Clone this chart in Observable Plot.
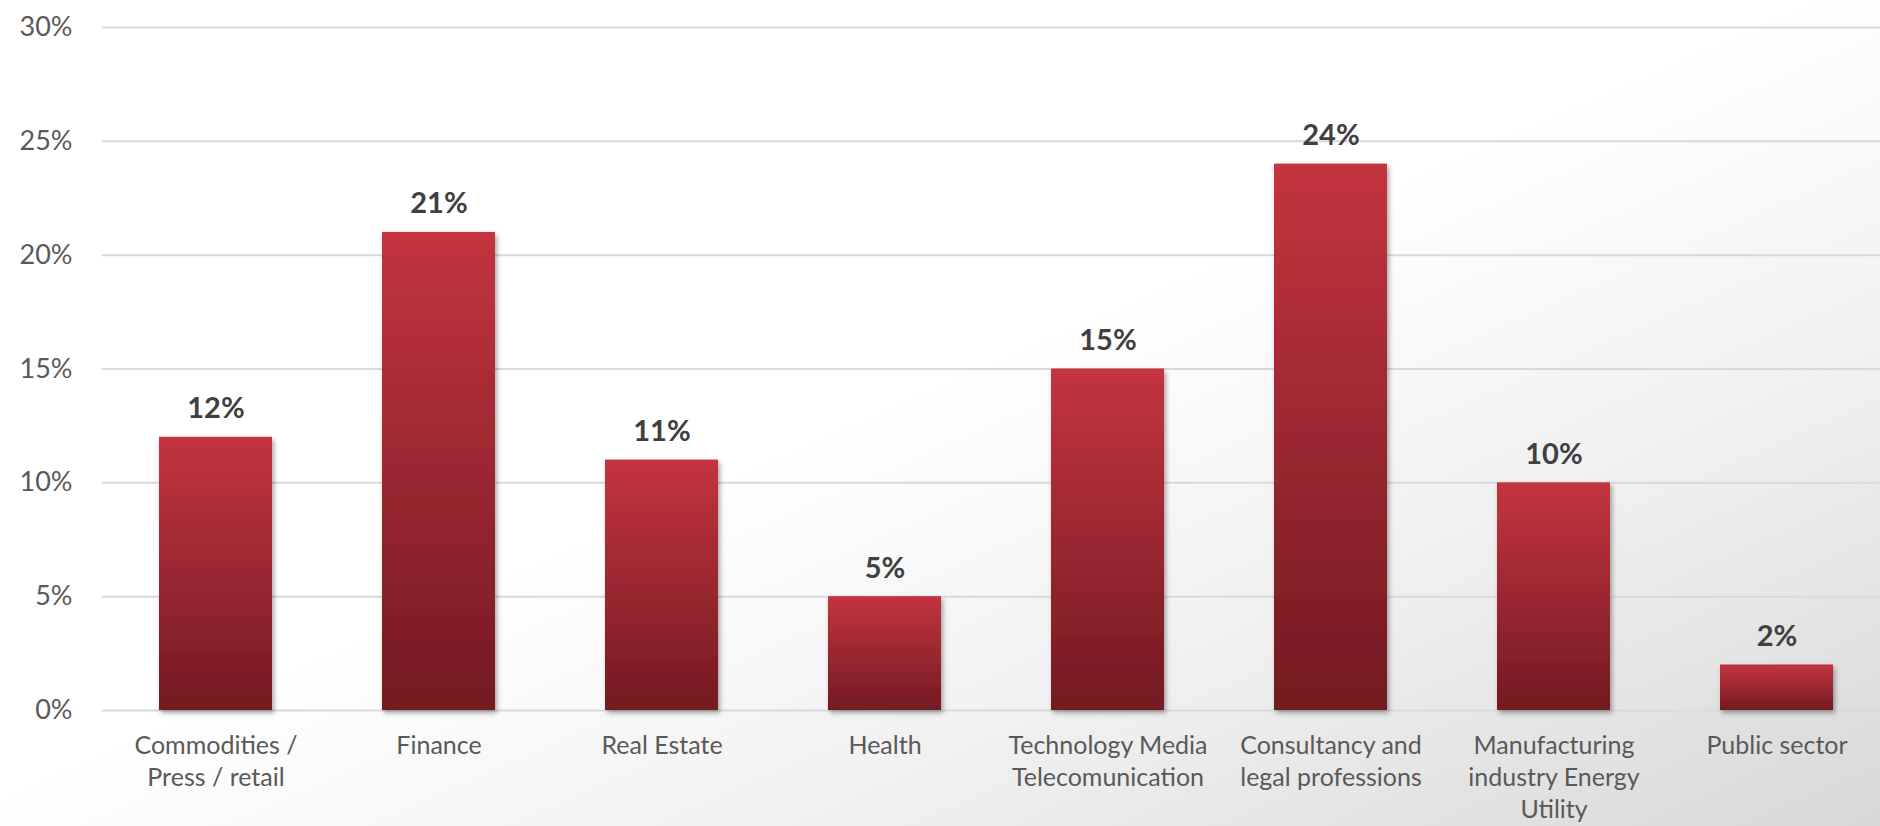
<!DOCTYPE html>
<html>
<head>
<meta charset="utf-8">
<script src="https://cdn.jsdelivr.net/npm/d3@7"></script>
<script src="https://cdn.jsdelivr.net/npm/@observablehq/plot@0.6"></script>
<style>
  html, body { margin: 0; padding: 0; }
  body {
    width: 1880px; height: 826px; overflow: hidden;
    background: linear-gradient(to bottom right, #ffffff 0%, #ffffff 48%, #f0f0f0 72%, #d8d8d8 100%);
    font-family: Lato, "Open Sans", sans-serif;
  }
  #chart svg { display: block; background: transparent; }
</style>
</head>
<body>
<div id="chart"></div>
<script>
const categories = ["Commodities", "Finance", "Real Estate", "Health", "TMT", "Consultancy", "Manufacturing", "Public sector"];
const labels = [
  "Commodities /\nPress / retail",
  "Finance",
  "Real Estate",
  "Health",
  "Technology Media\nTelecomunication",
  "Consultancy and\nlegal professions",
  "Manufacturing\nindustry Energy\nUtility",
  "Public sector"
];
const values = [12, 21, 11, 5, 15, 24, 10, 2];
const yTicks = [0, 5, 10, 15, 20, 25, 30];

const data = categories.map((c, i) => ({cat: c, label: labels[i], value: values[i]}));

const defs = () => {
  const d = d3.create("svg:defs");
  const g = d.append("linearGradient").attr("id", "barGrad").attr("x1", 0).attr("y1", 0).attr("x2", 0).attr("y2", 1);
  g.append("stop").attr("offset", "0%").attr("stop-color", "#c4343f");
  g.append("stop").attr("offset", "100%").attr("stop-color", "#721a22");
  const f = d.append("filter").attr("id", "shadow").attr("x", "-10%").attr("y", "-10%").attr("width", "130%").attr("height", "130%");
  f.append("feDropShadow").attr("dx", 2).attr("dy", 3).attr("stdDeviation", 2.5).attr("flood-color", "#000").attr("flood-opacity", 0.35);
  return d.node();
};

const chart = Plot.plot({
  width: 1880,
  height: 826,
  marginTop: 27,
  marginBottom: 116,
  marginLeft: 102,
  marginRight: -10,
  style: {fontFamily: "Lato, 'Open Sans', sans-serif", background: "transparent"},
  x: {domain: categories, paddingInner: 0.495, paddingOuter: 0.2475, axis: null},
  y: {domain: [0, 30], axis: null},
  marks: [
    defs,
    Plot.ruleY(yTicks, {stroke: "#d9d9d9", strokeWidth: 2}),
    Plot.axisY(yTicks, {tickSize: 0, tickPadding: 30, fontSize: 27, fill: "#595959", tickFormat: d => `${d}%`, label: null}),
    Plot.barY(data, {x: "cat", y: "value", fill: "url(#barGrad)"}),
    Plot.text(data, {x: "cat", y: "value", text: d => `${d.value}%`, dy: -19, lineAnchor: "bottom", fontSize: 29, fontWeight: "bold", fill: "#404040"}),
    Plot.text(data, {x: "cat", y: 0, text: "label", dy: 21, lineAnchor: "top", lineHeight: 1.28, fontSize: 25, fill: "#595959"})
  ]
});

d3.select(chart).selectAll("g[aria-label=bar]").attr("filter", "url(#shadow)");
document.getElementById("chart").appendChild(chart);
</script>
</body>
</html>
